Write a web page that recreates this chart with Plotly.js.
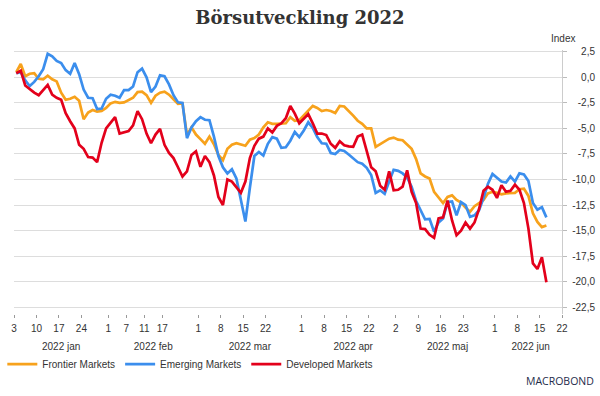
<!DOCTYPE html>
<html>
<head>
<meta charset="utf-8">
<script src="https://cdn.plot.ly/plotly-3.0.1.min.js"></script>
<style>html,body{margin:0;padding:0;background:#fff;}#chart{width:600px;height:396px;}</style>
</head>
<body>
<div id="chart"></div>
<script>
// Business days (one point per trading day)
const dates = [
'2022-01-03','2022-01-04','2022-01-05','2022-01-06','2022-01-07',
'2022-01-10','2022-01-11','2022-01-12','2022-01-13','2022-01-14',
'2022-01-17','2022-01-18','2022-01-19','2022-01-20','2022-01-21',
'2022-01-24','2022-01-25','2022-01-26','2022-01-27','2022-01-28',
'2022-01-31','2022-02-01','2022-02-02','2022-02-03','2022-02-04',
'2022-02-07','2022-02-08','2022-02-09','2022-02-10','2022-02-11',
'2022-02-14','2022-02-15','2022-02-16','2022-02-17','2022-02-18',
'2022-02-21','2022-02-22','2022-02-23','2022-02-24','2022-02-25',
'2022-02-28','2022-03-01','2022-03-02','2022-03-03','2022-03-04',
'2022-03-07','2022-03-08','2022-03-09','2022-03-10','2022-03-11',
'2022-03-14','2022-03-15','2022-03-16','2022-03-17','2022-03-18',
'2022-03-21','2022-03-22','2022-03-23','2022-03-24','2022-03-25',
'2022-03-28','2022-03-29','2022-03-30','2022-03-31','2022-04-01',
'2022-04-04','2022-04-05','2022-04-06','2022-04-07','2022-04-08',
'2022-04-11','2022-04-12','2022-04-13','2022-04-14','2022-04-15',
'2022-04-18','2022-04-19','2022-04-20','2022-04-21','2022-04-22',
'2022-04-25','2022-04-26','2022-04-27','2022-04-28','2022-04-29',
'2022-05-02','2022-05-03','2022-05-04','2022-05-05','2022-05-06',
'2022-05-09','2022-05-10','2022-05-11','2022-05-12','2022-05-13',
'2022-05-16','2022-05-17','2022-05-18','2022-05-19','2022-05-20',
'2022-05-23','2022-05-24','2022-05-25','2022-05-26','2022-05-27',
'2022-05-30','2022-05-31','2022-06-01','2022-06-02','2022-06-03',
'2022-06-06','2022-06-07','2022-06-08','2022-06-09','2022-06-10',
'2022-06-13','2022-06-14','2022-06-15','2022-06-16'
];

const frontier = [
0.5,1.3,0.1,0.35,0.4, -0.15,-0.2,0.15,-0.2,-0.4,
-1.5,-2.2,-2.1,-1.9,-2.3, -4.1,-3.45,-3.2,-3.35,-3.3,
-3.0,-2.55,-2.4,-2.5,-2.45, -2.2,-2.0,-1.45,-1.4,-1.75,
-2.5,-1.8,-1.5,-1.4,-1.7, -2.15,-2.6,-2.55,-5.65,-4.9,
-5.6,-6.05,-6.5,-5.8,-6.55, -7.6,-8.1,-7.0,-6.6,-6.45,
-6.6,-6.7,-6.1,-5.95,-5.6, -4.9,-4.4,-4.55,-4.55,-4.5,
-4.5,-3.9,-4.25,-4.2,-3.7, -3.25,-2.8,-3.0,-3.3,-3.2,
-3.3,-3.5,-2.8,-2.85,-3.25, -3.75,-4.25,-4.55,-5.0,-5.0,
-6.8,-6.55,-6.25,-6.0,-5.9, -6.1,-6.15,-6.6,-7.0,-8.0,
-9.4,-9.7,-9.9,-11.2,-11.7, -12.3,-11.7,-11.55,-12.0,-12.25,
-12.75,-13.15,-12.6,-12.3,-12.0, -11.35,-11.2,-11.3,-11.45,-11.35,
-11.35,-11.3,-10.95,-10.9,-11.6, -13.3,-14.15,-14.65,-14.5
];

const emerging = [
0.4,0.5,-0.3,-0.85,-0.45, 0.1,0.8,2.3,2.05,1.6,
1.4,0.7,0.35,1.4,0.3, -1.2,-2.0,-2.05,-3.1,-3.05,
-2.1,-1.7,-1.8,-2.0,-1.25, -1.25,-0.9,0.5,0.85,0.0,
-1.45,-0.9,0.2,0.1,-0.7, -1.75,-2.45,-2.5,-5.95,-4.9,
-4.3,-3.9,-4.15,-4.2,-5.8, -7.7,-8.8,-9.4,-9.0,-9.9,
-12.0,-14.1,-10.8,-7.7,-7.3, -7.65,-6.5,-5.85,-6.0,-6.9,
-6.85,-6.2,-5.35,-5.85,-5.2, -4.4,-4.95,-5.85,-6.45,-6.5,
-7.4,-7.5,-7.1,-7.2,-7.55, -7.9,-8.3,-8.45,-8.85,-9.55,
-11.3,-11.05,-11.4,-10.2,-9.05, -9.15,-9.4,-9.8,-10.7,-12.1,
-13.0,-13.9,-13.85,-15.1,-14.2, -13.8,-12.2,-12.15,-13.5,-12.2,
-12.5,-13.65,-13.5,-13.0,-11.8, -10.4,-9.45,-9.8,-10.2,-10.3,
-9.7,-10.2,-9.4,-9.5,-10.15, -12.3,-12.95,-12.7,-13.7
];

const developed = [
0.4,0.65,-0.8,-1.15,-1.5, -1.75,-1.2,-0.75,-1.7,-2.0,
-2.2,-3.5,-4.3,-5.0,-6.6, -7.0,-7.8,-7.85,-8.3,-6.4,
-5.0,-4.4,-3.9,-5.5,-5.35, -5.25,-4.7,-3.3,-4.1,-5.5,
-6.45,-5.6,-5.05,-6.6,-7.4, -7.9,-8.8,-9.7,-9.2,-7.6,
-7.25,-8.75,-7.7,-8.3,-9.6, -11.7,-12.5,-10.0,-10.2,-10.8,
-11.3,-10.2,-7.9,-6.7,-6.0, -5.8,-5.0,-5.4,-4.75,-4.5,
-4.0,-2.8,-3.55,-4.5,-4.05, -3.6,-4.5,-5.5,-5.5,-5.65,
-6.5,-6.9,-6.25,-6.65,-6.75, -6.8,-5.8,-5.6,-7.2,-8.8,
-9.2,-10.6,-11.0,-9.2,-11.05, -11.0,-10.7,-9.1,-11.2,-12.3,
-14.8,-14.85,-15.4,-15.7,-13.8, -13.7,-12.05,-14.0,-15.45,-15.0,
-14.2,-14.8,-14.2,-12.9,-11.1, -10.7,-11.0,-11.8,-10.55,-11.2,
-11.1,-10.5,-11.0,-12.3,-14.8, -18.2,-18.75,-17.6,-20.05
];

const seriesNames = ['Frontier Markets','Emerging Markets','Developed Markets'];

const xTickVals = ['2022-01-03','2022-01-10','2022-01-17','2022-01-24',
  '2022-02-01','2022-02-07','2022-02-11','2022-02-17',
  '2022-03-01','2022-03-08','2022-03-15','2022-03-22',
  '2022-04-01','2022-04-08','2022-04-15','2022-04-22',
  '2022-05-02','2022-05-09','2022-05-16','2022-05-23',
  '2022-06-01','2022-06-08','2022-06-15','2022-06-22'];
const xTickText = ['3','10','17','24','1','7','11','17','1','8','15','22',
  '1','8','15','22','2','9','16','23','1','8','15','22'];

const monthVals = ['2022-01-17 12:00','2022-02-15 00:00','2022-03-16 12:00',
  '2022-04-18 12:00','2022-05-17 12:00','2022-06-13 00:00'];
const monthText = ['2022 jan','2022 feb','2022 mar','2022 apr','2022 maj','2022 jun'];

const yTickVals = [2.5,0,-2.5,-5,-7.5,-10,-12.5,-15,-17.5,-20,-22.5];
const yTickText = ['2,5','0,0','-2,5','-5,0','-7,5','-10,0','-12,5','-15,0','-17,5','-20,0','-22,5'];

const colors = ['#f7a21c','#3b8eed','#e3001b'];

const xs = dates.map(d => d + ' 12:00');
const xRange = ['2022-01-03','2022-06-22'];
const breaks = [{bounds:['sat','mon']}];
const FONT = 'Liberation Sans, Arial, sans-serif';

const traces = [
  {x: xs, y: frontier, name: seriesNames[0], type: 'scatter', mode: 'lines',
   line: {color: colors[0], width: 2.7}, xaxis: 'x', yaxis: 'y'},
  {x: xs, y: emerging, name: seriesNames[1], type: 'scatter', mode: 'lines',
   line: {color: colors[1], width: 2.7}, xaxis: 'x', yaxis: 'y'},
  {x: xs, y: developed, name: seriesNames[2], type: 'scatter', mode: 'lines',
   line: {color: colors[2], width: 2.7}, xaxis: 'x2', yaxis: 'y2'}
];

const yRange = [-23.15, 2.67];
const plotRight = 550/586;

const layout = {
  width: 600, height: 396,
  margin: {l: 12, r: 2, t: 50, b: 82, pad: 0},
  paper_bgcolor: '#ffffff', plot_bgcolor: '#ffffff',
  font: {family: FONT, size: 10, color: '#333333'},
  showlegend: true,
  title: {
    text: 'Börsutveckling 2022',
    font: {family: 'DejaVu Serif, serif', size: 18, color: '#333333', weight: 'bold'},
    x: 0.5, xref: 'container', xanchor: 'center',
    y: 1 - 18/396, yref: 'container', yanchor: 'middle'
  },
  xaxis: {
    type: 'date', domain: [0, plotRight], range: xRange, rangebreaks: breaks,
    tickmode: 'array', tickvals: xTickVals, ticktext: xTickText,
    ticks: 'outside', ticklen: 3, tickwidth: 1, tickcolor: '#999999',
    showgrid: false, showline: false, zeroline: false,
    tickfont: {family: FONT, size: 10, color: '#333333'},
    ticklabelstandoff: 2, fixedrange: true
  },
  xaxis2: {
    type: 'date', overlaying: 'x', anchor: 'y2', side: 'bottom',
    domain: [0, plotRight], range: xRange, rangebreaks: breaks,
    tickmode: 'array', tickvals: monthVals, ticktext: monthText,
    ticks: '', showgrid: false, showline: false, zeroline: false,
    tickfont: {family: FONT, size: 10, color: '#333333'},
    ticklabelstandoff: 25, fixedrange: true
  },
  yaxis: {
    range: yRange, side: 'right', anchor: 'x',
    tickmode: 'array', tickvals: yTickVals, ticktext: yTickText,
    showticklabels: false,
    ticks: 'outside', ticklen: 4, tickwidth: 1, tickcolor: '#bbbbbb',
    showline: true, linecolor: '#cccccc', linewidth: 1,
    showgrid: true, gridcolor: '#dddddd', gridwidth: 1,
    zeroline: false, fixedrange: true
  },
  yaxis2: {
    range: yRange, overlaying: 'y', anchor: 'free', position: 1, side: 'left',
    tickmode: 'array', tickvals: yTickVals, ticktext: yTickText,
    ticks: '', showline: false, showgrid: false, zeroline: false,
    tickfont: {family: FONT, size: 10, color: '#333333'},
    ticklabelstandoff: 3, fixedrange: true
  },
  legend: {
    orientation: 'h', x: -0.02, xanchor: 'left', y: -0.19, yanchor: 'middle',
    font: {family: FONT, size: 10, color: '#333333'},
    bgcolor: 'rgba(0,0,0,0)', itemwidth: 30, tracegroupgap: 0,
    traceorder: 'normal'
  },
  annotations: [
    {text: 'Index', xref: 'paper', yref: 'paper', x: (563-12)/586, y: (314-38)/264,
     xanchor: 'center', yanchor: 'middle', showarrow: false,
     font: {family: FONT, size: 10, color: '#333333'}},
    {text: 'MACROBOND', xref: 'paper', yref: 'paper', x: (596-12)/586, y: (314-381)/264,
     xanchor: 'right', yanchor: 'middle', showarrow: false,
     font: {family: 'Open Sans, sans-serif', size: 10.5, color: '#1e2b4a'}}
  ],
  hovermode: false
};

Plotly.newPlot('chart', traces, layout, {displayModeBar: false, staticPlot: true, responsive: false});
</script>
</body>
</html>
